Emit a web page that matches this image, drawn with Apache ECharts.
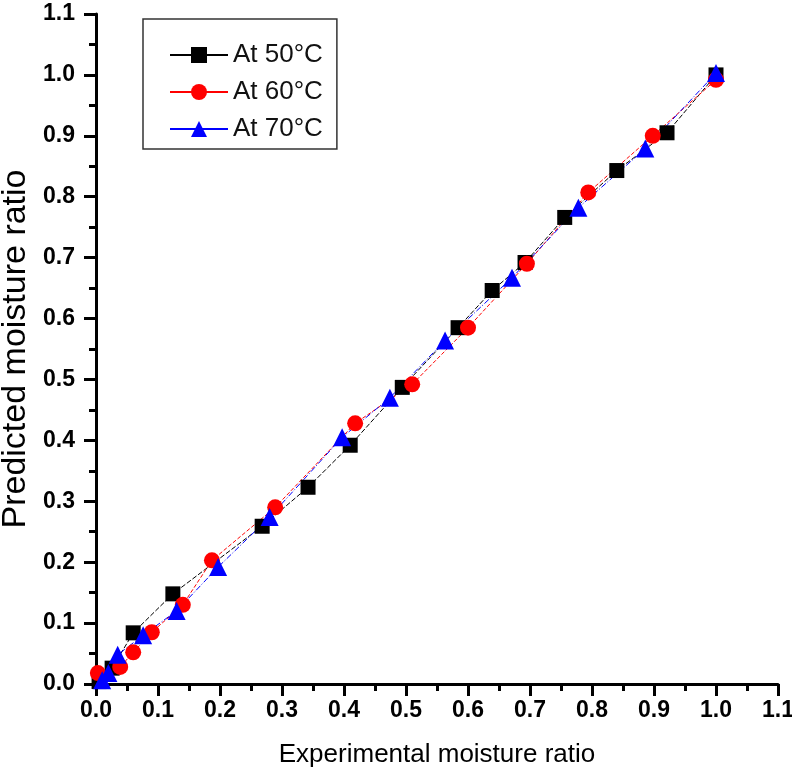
<!DOCTYPE html>
<html>
<head>
<meta charset="utf-8">
<script src="https://cdn.jsdelivr.net/npm/echarts@6/dist/echarts.min.js"></script>
<style>
  html, body { margin: 0; padding: 0; background: #fff; }
  #chart { width: 792px; height: 778px; }
</style>
</head>
<body>
<div id="chart"></div>
<script>
// experimental vs predicted moisture ratio
var seriesNames = ["At 50°C", "At 60°C", "At 70°C"];
var at50 = [
  [0.005, 0.004], [0.026, 0.026], [0.06, 0.084], [0.124, 0.148], [0.268, 0.259],
  [0.342, 0.323], [0.41, 0.392], [0.494, 0.487], [0.584, 0.585], [0.639, 0.646],
  [0.692, 0.692], [0.756, 0.766], [0.84, 0.843], [0.921, 0.905], [1.0, 1.0]
];
var at60 = [
  [0.003, 0.018], [0.039, 0.028], [0.06, 0.052], [0.09, 0.085], [0.14, 0.13],
  [0.187, 0.203], [0.289, 0.29], [0.418, 0.428], [0.51, 0.492], [0.6, 0.585],
  [0.695, 0.69], [0.794, 0.807], [0.898, 0.9], [1.0, 0.992]
];
var at70 = [
  [0.01, 0.006], [0.02, 0.018], [0.035, 0.048], [0.076, 0.08], [0.13, 0.12],
  [0.197, 0.192], [0.28, 0.274], [0.397, 0.405], [0.474, 0.47], [0.563, 0.564],
  [0.671, 0.667], [0.778, 0.782], [0.886, 0.879], [1.0, 1.003]
];

var chart = echarts.init(document.getElementById("chart"));
var numFont = "'Liberation Sans Narrow', 'Liberation Sans', Arial, sans-serif";

function axisCommon(name) {
  return {
    type: "value",
    min: 0,
    max: 1.1,
    interval: 0.1,
    name: name,
    nameLocation: "middle",
    nameTextStyle: {
      color: "#000",
      fontSize: 26,
      fontFamily: numFont
    },
    axisLine: { show: true, lineStyle: { color: "#000", width: 3 } },
    axisTick: { show: true, length: 12, lineStyle: { color: "#000", width: 3 } },
    minorTick: { show: true, splitNumber: 2, length: 7, lineStyle: { color: "#000", width: 3 } },
    splitLine: { show: false },
    axisLabel: {
      color: "#000",
      fontSize: 23,
      fontWeight: "bold",
      fontFamily: numFont,
      formatter: function(v) { return v.toFixed(1); }
    }
  };
}

var xAxis = axisCommon("Experimental moisture ratio");
xAxis.nameGap = 58;
xAxis.axisLabel.margin = 15;
var yAxis = axisCommon("Predicted moisture ratio");
yAxis.nameGap = 61;
yAxis.nameTextStyle.fontSize = 34;
yAxis.axisLabel.margin = 21;

var option = {
  animation: false,
  grid: { left: 96, right: 14, top: 14, bottom: 94, containLabel: false, outerBoundsMode: "none" },
  legend: {
    left: 143,
    top: 19,
    orient: "vertical",
    padding: [23, 14, 7, 26],
    itemWidth: 58,
    itemHeight: 20,
    itemGap: 11,
    borderColor: "#333",
    borderWidth: 1.5,
    lineStyle: { type: "solid" },
    textStyle: { color: "#111", fontSize: 26, fontFamily: "Arial, 'Liberation Sans', sans-serif" },
    data: seriesNames
  },
  xAxis: xAxis,
  yAxis: yAxis,
  series: [
    {
      name: seriesNames[0],
      type: "line",
      data: at50,
      symbol: "rect",
      symbolSize: 15,
      itemStyle: { color: "#000" },
      lineStyle: { color: "#000", width: 1, type: [5, 2] }
    },
    {
      name: seriesNames[1],
      type: "line",
      data: at60,
      symbol: "circle",
      symbolSize: 16,
      itemStyle: { color: "#ff0000" },
      lineStyle: { color: "#ff0000", width: 1, type: [4, 2] }
    },
    {
      name: seriesNames[2],
      type: "line",
      data: at70,
      symbol: "triangle",
      symbolSize: 18,
      itemStyle: { color: "#0000ff" },
      lineStyle: { color: "#0000ff", width: 1, type: [6, 2, 1, 2] }
    }
  ]
};

chart.setOption(option);
window.addEventListener("resize", function() {
  chart.resize();
});
</script>
</body>
</html>
